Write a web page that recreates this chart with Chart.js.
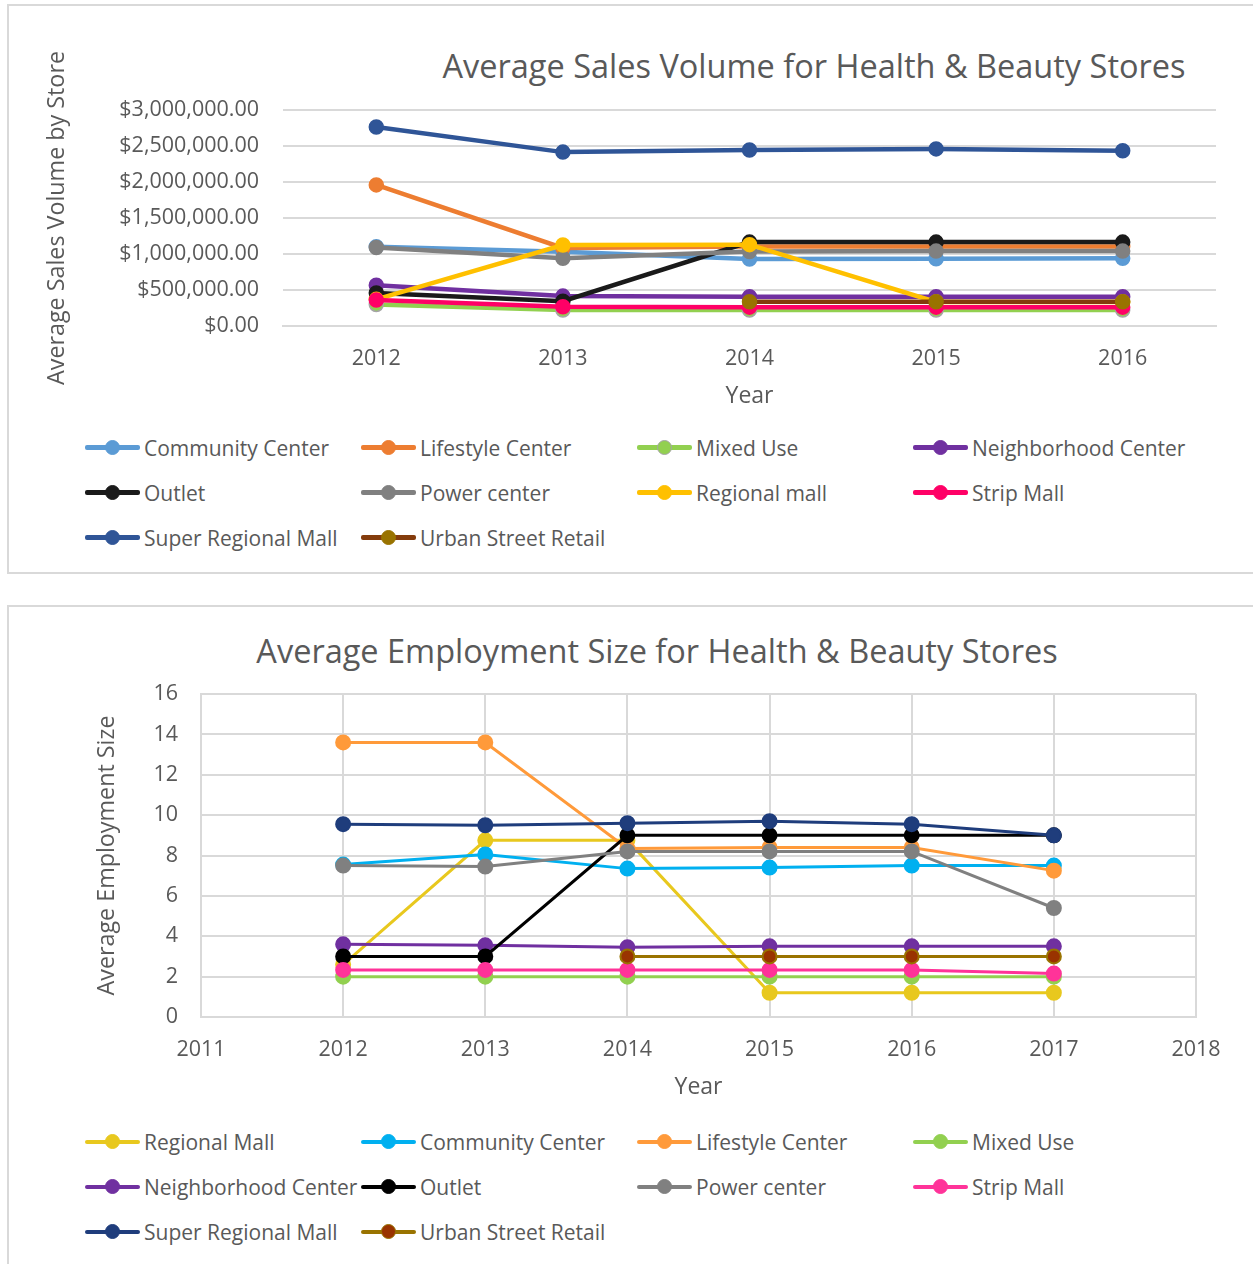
<!DOCTYPE html>
<html>
<head>
<meta charset="utf-8">
<script src="https://cdn.jsdelivr.net/npm/chart.js@4.4.0/dist/chart.umd.min.js"></script>
<style>
    html, body { margin: 0; padding: 0; overflow: hidden; background: #fff; }
    body { font-family: 'Open Sans', sans-serif; color: #595959; width: 1253px; height: 1264px; position: relative; }
    .box { position: absolute; left: 7px; width: 1270px; border: 2px solid #D9D9D9; box-sizing: border-box; }
    #box1 { top: 4px; height: 570px; }
    #box2 { top: 605px; height: 720px; }
    .chartTitle { position: absolute; font-size: 32.5px; white-space: nowrap; transform: translate(-50%, -50%); }
    canvas { position: absolute; }
    .legend { position: absolute; display: grid; grid-template-columns: repeat(4, 276px); grid-auto-rows: 45px; }
    .item { display: flex; align-items: center; font-size: 21px; white-space: nowrap; height: 45px; }
    .swatch { position: relative; width: 55px; height: 20px; margin-right: 4px; flex: none; }
    .swatch .ln { position: absolute; left: 0; right: 0; top: 50%; border-radius: 2px; }
    .swatch .dot { position: absolute; left: 50%; top: 50%; width: 15px; height: 15px; margin: -7.5px; border-radius: 50%; box-sizing: border-box; }
</style>
</head>
<body>
<div class="box" id="box1"></div>
<div class="box" id="box2"></div>

<div class="chartTitle" style="left:814px; top:65px;">Average Sales Volume for Health &amp; Beauty Stores</div>
<canvas id="graficoVendas" width="1246" height="415" style="left:7px; top:5px;"></canvas>
<div class="legend" id="legendaVendas" style="left:85px; top:425px;"></div>

<div class="chartTitle" style="left:657px; top:650px;">Average Employment Size for Health &amp; Beauty Stores</div>
<canvas id="graficoEmprego" width="1246" height="504" style="left:7px; top:606px;"></canvas>
<div class="legend" id="legendaEmprego" style="left:85px; top:1119px;"></div>

<script>
// ---- Average Sales Volume (top chart) ----
const salesYears = ['2012', '2013', '2014', '2015', '2016'];
const salesNames = ['Community Center', 'Lifestyle Center', 'Mixed Use', 'Neighborhood Center', 'Outlet',
    'Power center', 'Regional mall', 'Strip Mall', 'Super Regional Mall', 'Urban Street Retail'];
const salesCommunity = [1100000, 1030000, 930000, 935000, 940000];
const salesLifestyle = [1960000, 1085000, 1105000, 1105000, 1105000];
const salesMixedUse = [300000, 222000, 222000, 222000, 222000];
const salesNeighborhood = [565000, 415000, 405000, 405000, 405000];
const salesOutlet = [460000, 345000, 1165000, 1165000, 1165000];
const salesPower = [1090000, 940000, 1035000, 1040000, 1040000];
const salesRegional = [370000, 1125000, 1130000, 335000, 335000];
const salesStrip = [360000, 268000, 262000, 262000, 262000];
const salesSuperRegional = [2765000, 2415000, 2445000, 2460000, 2435000];
const salesUrban = [null, null, 338000, 338000, 338000];

// ---- Average Employment Size (bottom chart) ----
const empYears = [2012, 2013, 2014, 2015, 2016, 2017];
const empNames = ['Regional Mall', 'Community Center', 'Lifestyle Center', 'Mixed Use', 'Neighborhood Center',
    'Outlet', 'Power center', 'Strip Mall', 'Super Regional Mall', 'Urban Street Retail'];
const empRegional = [2.6, 8.75, 8.75, 1.2, 1.2, 1.2];
const empCommunity = [7.55, 8.05, 7.35, 7.4, 7.5, 7.5];
const empLifestyle = [13.6, 13.6, 8.35, 8.4, 8.4, 7.25];
const empMixedUse = [2, 2, 2, 2, 2, 2];
const empNeighborhood = [3.6, 3.55, 3.45, 3.5, 3.5, 3.5];
const empOutlet = [3, 3, 9, 9, 9, 9];
const empPower = [7.5, 7.45, 8.2, 8.2, 8.2, 5.4];
const empStrip = [2.33, 2.33, 2.33, 2.33, 2.33, 2.15];
const empSuperRegional = [9.55, 9.5, 9.6, 9.7, 9.55, 9.0];
const empUrban = [null, null, 3, 3, 3, 3];

const textColor = '#595959';
const gridColor = '#D9D9D9';
const fontFamily = "'Open Sans', sans-serif";

// line colour, marker fill, marker border
const salesStyles = [
    ['#5B9BD5', '#5B9BD5', '#5B9BD5'],
    ['#ED7D31', '#ED7D31', '#ED7D31'],
    ['#92D050', '#92D050', '#A5A5A5'],
    ['#7030A0', '#7030A0', '#7030A0'],
    ['#1A1A1A', '#1A1A1A', '#1A1A1A'],
    ['#808080', '#808080', '#808080'],
    ['#FFC000', '#FFC000', '#FFC000'],
    ['#FF0066', '#FF0066', '#FF0066'],
    ['#2F5597', '#2F5597', '#2F5597'],
    ['#843C0C', '#997300', '#997300']
];
const empStyles = [
    ['#E8C81E', '#E8C81E', '#E8C81E'],
    ['#00B0F0', '#00B0F0', '#00B0F0'],
    ['#FF9A3A', '#FF9A3A', '#FF9A3A'],
    ['#92D050', '#92D050', '#92D050'],
    ['#7030A0', '#7030A0', '#7030A0'],
    ['#000000', '#000000', '#000000'],
    ['#808080', '#808080', '#808080'],
    ['#FF3399', '#FF3399', '#FF3399'],
    ['#1F3D7C', '#1F3D7C', '#1F3D7C'],
    ['#997300', '#993300', '#997300']
];

function montarLegenda(id, nomes, estilos, espessura) {
    const el = document.getElementById(id);
    nomes.forEach((nome, i) => {
        const item = document.createElement('div');
        item.className = 'item';
        item.innerHTML = '<span class="swatch"><span class="ln" style="height:' + espessura + 'px;margin-top:-' + (espessura / 2) +
            'px;background:' + estilos[i][0] + '"></span><span class="dot" style="background:' + estilos[i][1] +
            ';border:1.5px solid ' + estilos[i][2] + '"></span></span>' + nome;
        el.appendChild(item);
    });
}

function criarGraficoVendas() {
    const series = [salesCommunity, salesLifestyle, salesMixedUse, salesNeighborhood, salesOutlet,
        salesPower, salesRegional, salesStrip, salesSuperRegional, salesUrban];
    const ctx = document.getElementById('graficoVendas').getContext('2d');
    new Chart(ctx, {
        type: 'line',
        data: {
            labels: salesYears,
            datasets: series.map((valores, i) => ({
                label: salesNames[i],
                data: valores,
                borderColor: salesStyles[i][0],
                backgroundColor: salesStyles[i][1],
                pointBackgroundColor: salesStyles[i][1],
                pointBorderColor: salesStyles[i][2],
                pointBorderWidth: 1.5,
                pointRadius: 7,
                borderWidth: 4.5,
                tension: 0,
                order: series.length - i
            }))
        },
        options: {
            responsive: false,
            animation: false,
            layout: { padding: { left: 0, right: 37, top: 105, bottom: 0 } },
            plugins: { legend: { display: false }, tooltip: { enabled: false } },
            scales: {
                x: {
                    offset: true,
                    grid: { display: false, drawTicks: false },
                    border: { color: gridColor, width: 2 },
                    ticks: { color: textColor, font: { family: fontFamily, size: 21.5 }, padding: 20 },
                    title: { display: true, text: 'Year', color: textColor, font: { family: fontFamily, size: 23 }, padding: { bottom: 10 } },
                    afterFit: scale => { scale.height = 94; }
                },
                y: {
                    min: 0,
                    max: 3000000,
                    ticks: {
                        stepSize: 500000,
                        color: textColor,
                        font: { family: fontFamily, size: 21.5 },
                        padding: 24,
                        callback: v => '$' + v.toLocaleString('en-US', { minimumFractionDigits: 2, maximumFractionDigits: 2 })
                    },
                    grid: { color: gridColor, lineWidth: 2, drawTicks: false },
                    border: { display: false },
                    title: { display: true, text: 'Average Sales Volume by Store', color: textColor, font: { family: fontFamily, size: 23.3 }, padding: { top: 36 } },
                    afterFit: scale => { scale.width = 276; }
                }
            }
        }
    });
}

function criarGraficoEmprego() {
    const series = [empRegional, empCommunity, empLifestyle, empMixedUse, empNeighborhood,
        empOutlet, empPower, empStrip, empSuperRegional, empUrban];
    const ctx = document.getElementById('graficoEmprego').getContext('2d');
    new Chart(ctx, {
        type: 'line',
        data: {
            datasets: series.map((valores, i) => ({
                label: empNames[i],
                data: valores.map((v, j) => ({ x: empYears[j], y: v })),
                borderColor: empStyles[i][0],
                backgroundColor: empStyles[i][1],
                pointBackgroundColor: empStyles[i][1],
                pointBorderColor: empStyles[i][2],
                pointBorderWidth: 2,
                pointRadius: 7,
                borderWidth: 3,
                tension: 0,
                order: series.length - i
            }))
        },
        options: {
            responsive: false,
            animation: false,
            layout: { padding: { left: 0, right: 57, top: 88, bottom: 0 } },
            plugins: { legend: { display: false }, tooltip: { enabled: false } },
            scales: {
                x: {
                    type: 'linear',
                    min: 2011,
                    max: 2018,
                    grid: { color: gridColor, lineWidth: 2, drawTicks: false },
                    border: { color: gridColor, width: 2 },
                    ticks: { stepSize: 1, color: textColor, font: { family: fontFamily, size: 21.5 }, padding: 20, callback: v => String(v) },
                    title: { display: true, text: 'Year', color: textColor, font: { family: fontFamily, size: 23 }, padding: { bottom: 9 } },
                    afterFit: scale => { scale.height = 93; }
                },
                y: {
                    min: 0,
                    max: 16,
                    ticks: { stepSize: 2, color: textColor, font: { family: fontFamily, size: 21.5 }, padding: 23 },
                    grid: { color: gridColor, lineWidth: 2, drawTicks: false },
                    border: { color: gridColor, width: 2 },
                    title: { display: true, text: 'Average Employment Size', color: textColor, font: { family: fontFamily, size: 23.3 }, padding: { top: 86 } },
                    afterFit: scale => { scale.width = 194; }
                }
            }
        }
    });
}

montarLegenda('legendaVendas', salesNames, salesStyles, 5);
montarLegenda('legendaEmprego', empNames, empStyles, 4);
criarGraficoVendas();
criarGraficoEmprego();
</script>
</body>
</html>
